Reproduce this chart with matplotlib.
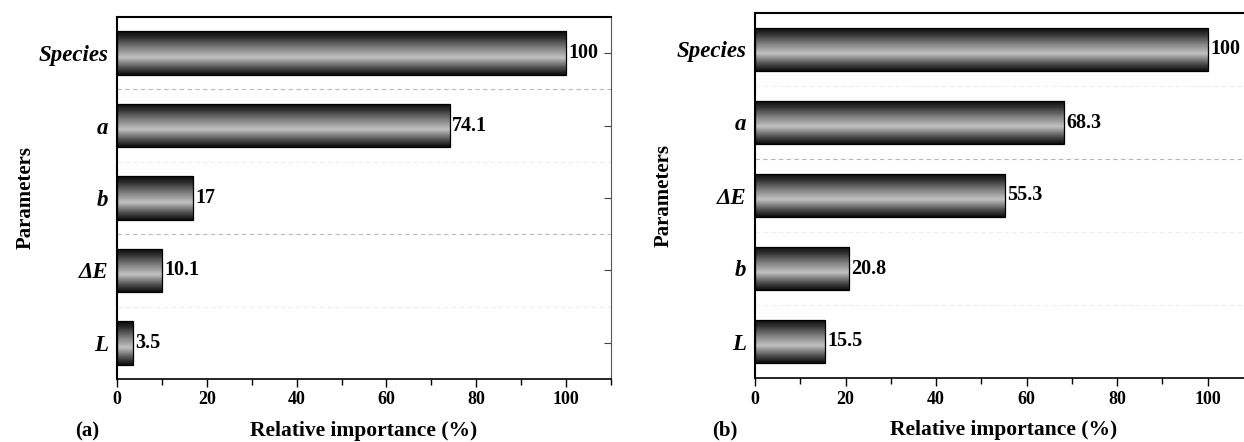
#!/usr/bin/env python3

import numpy as np
import matplotlib
matplotlib.use('Agg')
import matplotlib.pyplot as plt
from matplotlib.ticker import MultipleLocator
from matplotlib.colors import LinearSegmentedColormap

# panel (a)
params_a = ['Species', 'a', 'b', 'ΔE', 'L']
values_a = [100, 74.1, 17, 10.1, 3.5]
labels_a = ['100', '74.1', '17', '10.1', '3.5']

# panel (b)
params_b = ['Species', 'a', 'ΔE', 'b', 'L']
values_b = [100, 68.3, 55.3, 20.8, 15.5]
labels_b = ['100', '68.3', '55.3', '20.8', '15.5']

x_ticks = [0, 20, 40, 60, 80, 100]

plt.rcParams['font.family'] = ['Liberation Serif', 'DejaVu Serif']
plt.rcParams['font.weight'] = 'bold'

# cylinder-like shading: dark at the edges, light a bit below the middle
shade = LinearSegmentedColormap.from_list(
    'shade', [(0.0, '#080808'), (0.15, '#2e2e2e'), (0.38, '#808080'),
              (0.6, '#c2c2c2'), (0.82, '#555555'), (1.0, '#0a0a0a')])
grad = np.linspace(0, 1, 256).reshape(-1, 1)


def draw_panel(ax, params, values, labels, strong_lines, letter):
    ypos = np.arange(len(params))
    h = 0.6
    bars = ax.barh(ypos, values, height=h, color='none', edgecolor='black',
                   linewidth=0.9, zorder=3)
    for bar, y, v in zip(bars, ypos, values):
        im = ax.imshow(grad, cmap=shade, aspect='auto', zorder=2,
                       extent=[0, v, y + h / 2, y - h / 2], interpolation='bilinear')
        im.set_clip_path(bar)
    for y, v, lab in zip(ypos, values, labels):
        ax.text(v + 0.5, y, lab, va='center', ha='left', fontsize=14.5,
                fontweight='bold', zorder=4)

    # dashed separators between categories
    for k in np.arange(0.5, len(params) - 1, 1.0):
        col = '#b8b8b8' if k in strong_lines else '#ededed'
        ax.axhline(k, color=col, lw=0.8, ls=(0, (4, 3)), zorder=1)

    ax.set_xlim(0, 110)
    ax.set_ylim(len(params) - 0.5, -0.5)
    ax.set_yticks(ypos)
    ax.set_yticklabels(params, fontstyle='italic', fontweight='bold', fontsize=16.5)
    ax.tick_params(axis='y', which='both', left=False, right=True, direction='in',
                   length=5, pad=6, color='#444444')
    ax.set_xticks(x_ticks)
    ax.xaxis.set_minor_locator(MultipleLocator(10))
    ax.tick_params(axis='x', which='major', direction='out', length=6, width=1.0,
                   labelsize=13, pad=3)
    ax.tick_params(axis='x', which='minor', direction='out', length=4, width=1.0)
    for lab in ax.get_xticklabels():
        lab.set_fontweight('bold')
    ax.spines['top'].set_linewidth(1.5)
    ax.spines['left'].set_linewidth(1.5)
    ax.spines['bottom'].set_linewidth(1.2)
    ax.spines['right'].set_linewidth(0.8)
    ax.spines['right'].set_color('#555555')
    ax.set_xlabel('Relative importance (%)', fontsize=15.5, fontweight='bold', labelpad=9)
    ax.set_ylabel('Parameters', fontsize=15, fontweight='bold', labelpad=2)
    ax.text(-0.06, -0.145, letter, transform=ax.transAxes, fontsize=15,
            fontweight='bold', ha='center', va='center')


fig = plt.figure(figsize=(12.44, 4.42), dpi=100)
ax1 = fig.add_axes([117 / 1244, 1 - 379 / 442, 494 / 1244, 362 / 442])
ax2 = fig.add_axes([755 / 1244, 1 - 378 / 442, 498 / 1244, 365 / 442])

draw_panel(ax1, params_a, values_a, labels_a, [0.5, 2.5], '(a)')
draw_panel(ax2, params_b, values_b, labels_b, [1.5], '(b)')

fig.savefig('out.png', dpi=100)
